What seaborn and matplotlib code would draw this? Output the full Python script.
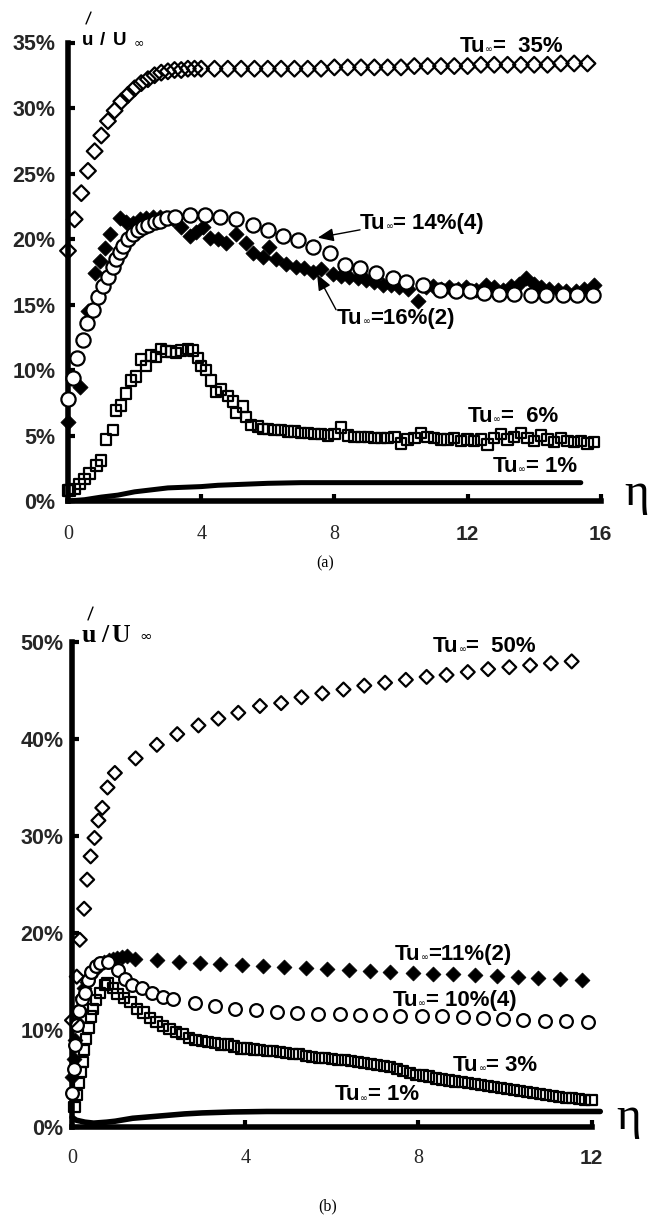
import matplotlib
matplotlib.use("Agg")
import matplotlib.pyplot as plt
import seaborn as sns
from matplotlib.lines import Line2D
from matplotlib.offsetbox import TextArea, HPacker, AnnotationBbox

# ---------------- panel (a) data ----------------
eta_a35 = [0.0, 0.2, 0.4, 0.6, 0.8, 1.0, 1.2, 1.4, 1.6, 1.8, 2.0, 2.2, 2.4, 2.6, 2.8, 3.0, 3.2, 3.4,
           3.6, 3.8, 4.0, 4.4, 4.8, 5.2, 5.6, 6.0, 6.4, 6.8, 7.2, 7.6, 8.0, 8.4, 8.8, 9.2, 9.6, 10.0,
           10.4, 10.8, 11.2, 11.6, 12.0, 12.4, 12.8, 13.2, 13.6, 14.0, 14.4, 14.8, 15.2, 15.6]
tu_a35 = [19.1, 21.5, 23.5, 25.2, 26.7, 27.9, 29.0, 29.8, 30.5, 31.0, 31.5, 31.9, 32.2, 32.5, 32.7,
          32.8, 32.9, 32.9, 33.0, 33.0, 33.0, 33.0, 33.0, 33.0, 33.0, 33.0, 33.0, 33.0, 33.0, 33.0,
          33.1, 33.1, 33.1, 33.1, 33.1, 33.1, 33.2, 33.2, 33.2, 33.2, 33.2, 33.3, 33.3, 33.3, 33.3,
          33.3, 33.3, 33.4, 33.4, 33.4]

eta_a14 = [0.0, 0.14, 0.28, 0.44, 0.58, 0.76, 0.91, 1.06, 1.21, 1.36, 1.45, 1.55, 1.66, 1.81, 1.96,
           2.11, 2.26, 2.41, 2.61, 2.76, 2.96, 3.21, 3.66, 4.11, 4.56, 5.06, 5.56, 6.01, 6.46, 6.91,
           7.36, 7.86, 8.31, 8.76, 9.26, 9.76, 10.16, 10.66, 11.16, 11.66, 12.06, 12.5, 12.95, 13.4,
           13.9, 14.35, 14.85, 15.3, 15.76]
tu_a14 = [7.8, 9.4, 10.9, 12.3, 13.6, 14.6, 15.6, 16.4, 17.1, 17.9, 18.5, 19.0, 19.5, 20.0, 20.4,
          20.7, 20.9, 21.1, 21.3, 21.4, 21.6, 21.7, 21.8, 21.8, 21.7, 21.5, 21.1, 20.7, 20.2, 19.9,
          19.4, 18.9, 18.0, 17.8, 17.4, 17.0, 16.7, 16.5, 16.1, 16.0, 16.0, 15.9, 15.8, 15.8, 15.7,
          15.7, 15.7, 15.7, 15.7]

eta_a16 = [0.0, 0.35, 0.6, 0.8, 0.95, 1.1, 1.25, 1.55, 1.75, 1.95, 2.15, 2.35, 2.55, 2.75, 2.95,
           3.15, 3.4, 3.65, 3.85, 4.05, 4.25, 4.5, 4.75, 5.05, 5.35, 5.55, 5.85, 6.05, 6.25, 6.55,
           6.85, 7.1, 7.35, 7.6, 7.95, 8.2, 8.45, 8.7, 8.95, 9.2, 9.45, 9.7, 9.95, 10.2, 10.5, 10.75,
           10.95, 11.2, 11.45, 11.7, 11.95, 12.25, 12.55, 12.8, 13.05, 13.3, 13.55, 13.75, 14.0,
           14.2, 14.45, 14.7, 14.95, 15.25, 15.5, 15.8]
tu_a16 = [6.0, 8.7, 14.5, 17.4, 18.3, 19.3, 20.4, 21.6, 21.3, 21.2, 21.5, 21.6, 21.7, 21.7, 21.6,
          21.5, 20.9, 20.2, 20.5, 20.9, 20.1, 20.0, 19.7, 20.4, 19.7, 18.9, 18.6, 19.4, 18.5, 18.1,
          17.9, 17.8, 17.5, 17.7, 17.3, 17.2, 17.1, 17.0, 16.9, 16.7, 16.5, 16.5, 16.3, 16.2, 15.3,
          16.3, 16.4, 16.2, 16.3, 16.2, 16.3, 16.1, 16.5, 16.3, 16.1, 16.4, 16.6, 17.0, 16.6, 16.3,
          16.2, 16.1, 16.0, 16.0, 16.2, 16.5]

eta_a6 = [0.0, 0.05, 0.2, 0.35, 0.5, 0.65, 0.85, 1.0, 1.15, 1.35, 1.45, 1.6, 1.75, 1.9, 2.05, 2.2,
          2.35, 2.5, 2.65, 2.8, 2.95, 3.1, 3.25, 3.4, 3.6, 3.75, 3.9, 4.0, 4.15, 4.3, 4.45, 4.6,
          4.8, 4.95, 5.05, 5.25, 5.35, 5.5, 5.7, 5.85,
          6.0, 6.2, 6.4, 6.6, 6.8, 7.0, 7.2, 7.4, 7.6, 7.8, 8.0, 8.2, 8.4, 8.6, 8.8, 9.0, 9.2, 9.4,
          9.6, 9.8, 10.0, 10.2, 10.4, 10.6, 10.8, 11.0, 11.2, 11.4, 11.6, 11.8, 12.0, 12.2, 12.4,
          12.6, 12.8, 13.0, 13.2, 13.4, 13.6, 13.8, 14.0, 14.2, 14.4, 14.6, 14.8, 15.0, 15.2, 15.4,
          15.6, 15.8]
tu_a6 = [0.8, 0.8, 0.9, 1.3, 1.7, 2.1, 2.7, 3.1, 4.7, 5.4, 6.9, 7.3, 8.2, 9.2, 9.5, 10.8, 10.3,
         11.1, 11.0, 11.6, 11.4, 11.4, 11.3, 11.5, 11.6, 11.5, 10.9, 10.3, 10.0, 9.2, 8.3, 8.5, 8.0,
         7.6, 6.7, 7.2, 6.4, 5.8, 5.7, 5.5,
         5.5, 5.4, 5.4, 5.3, 5.3, 5.2, 5.2, 5.1, 5.1, 5.0, 5.1, 5.6, 5.0, 4.9, 4.9, 4.9, 4.8, 4.8,
         4.8, 4.9, 4.4, 4.7, 4.8, 5.2, 4.9, 4.8, 4.7, 4.7, 4.8, 4.6, 4.7, 4.6, 4.7, 4.3, 4.8, 5.1,
         4.7, 4.9, 5.2, 4.8, 4.6, 5.0, 4.7, 4.5, 4.8, 4.6, 4.5, 4.6, 4.4, 4.5]

eta_a1 = [0.0, 0.5, 1.0, 1.5, 2.0, 2.5, 3.0, 3.5, 4.0, 4.5, 5.0, 5.5, 6.0, 7.0, 8.0, 10.0, 12.0,
          14.0, 15.4]
tu_a1 = [0.0, 0.1, 0.3, 0.45, 0.7, 0.85, 1.0, 1.05, 1.1, 1.2, 1.25, 1.3, 1.35, 1.4, 1.4, 1.4, 1.4,
         1.4, 1.4]

# ---------------- panel (b) data ----------------
eta_b50 = [0.0, 0.11, 0.18, 0.28, 0.35, 0.43, 0.52, 0.61, 0.70, 0.82, 0.99, 1.47, 1.96, 2.43, 2.92,
           3.38, 3.84, 4.34, 4.83, 5.3, 5.78, 6.27, 6.75, 7.23, 7.71, 8.19, 8.65, 9.14, 9.61, 10.1,
           10.58, 11.06, 11.54]
tu_b50 = [11.0, 15.5, 19.3, 22.5, 25.5, 27.9, 29.8, 31.6, 32.9, 35.0, 36.5, 38.0, 39.4, 40.5, 41.4,
          42.1, 42.7, 43.4, 43.7, 44.3, 44.7, 45.1, 45.5, 45.8, 46.1, 46.4, 46.6, 46.9, 47.2, 47.4,
          47.6, 47.8, 48.0]

eta_b11 = [0.0, 0.04, 0.08, 0.12, 0.17, 0.22, 0.28, 0.35, 0.42, 0.5, 0.58, 0.66, 0.75, 0.85, 0.95,
           1.05, 1.15, 1.26, 1.45, 1.96, 2.48, 2.96, 3.42, 3.92, 4.42, 4.9, 5.4, 5.9, 6.4, 6.88,
           7.34, 7.87, 8.34, 8.81, 9.31, 9.81, 10.31, 10.77, 11.27, 11.77]
tu_b11 = [5.2, 7.0, 9.0, 10.8, 12.2, 13.4, 14.3, 15.0, 15.6, 16.1, 16.5, 16.8, 17.0, 17.2, 17.3,
          17.4, 17.5, 17.6, 17.3, 17.2, 17.0, 16.9, 16.8, 16.7, 16.6, 16.5, 16.4, 16.3, 16.2, 16.1,
          16.0, 15.9, 15.8, 15.8, 15.7, 15.6, 15.5, 15.4, 15.3, 15.2]

eta_b10 = [0.0, 0.04, 0.08, 0.12, 0.17, 0.22, 0.3, 0.38, 0.45, 0.55, 0.65, 0.84, 1.07, 1.22, 1.38,
           1.61, 1.84, 2.11, 2.34, 2.84, 3.3, 3.76, 4.25, 4.73, 5.19, 5.69, 6.19, 6.65, 7.11, 7.57,
           8.08, 8.54, 9.04, 9.5, 9.96, 10.42, 10.92, 11.42, 11.92]
tu_b10 = [3.5, 6.0, 8.5, 10.5, 12.0, 13.2, 13.8, 15.2, 16.0, 16.6, 16.9, 17.0, 16.2, 15.3, 14.6,
          14.3, 13.8, 13.4, 13.2, 12.8, 12.5, 12.2, 12.1, 11.9, 11.8, 11.7, 11.6, 11.5, 11.5, 11.4,
          11.4, 11.4, 11.3, 11.2, 11.1, 11.0, 10.9, 10.9, 10.8]

eta_b3 = [0.06, 0.11, 0.16, 0.21, 0.26, 0.28, 0.32, 0.38, 0.43, 0.49, 0.55, 0.65, 0.76, 0.82, 0.95,
          1.05, 1.2, 1.35, 1.5, 1.65, 1.8, 1.95, 2.1, 2.25, 2.4, 2.55, 2.7, 2.85, 3.0, 3.15, 3.3,
          3.45, 3.6, 3.75, 3.9, 4.05, 4.2, 4.35, 4.5, 4.65, 4.8, 4.95, 5.1, 5.25, 5.4, 5.55, 5.7,
          5.85, 6.0, 6.15, 6.3, 6.45, 6.6, 6.75, 6.9, 7.05, 7.2, 7.35, 7.5, 7.65, 7.8, 7.95, 8.1,
          8.25, 8.4, 8.55, 8.7, 8.85, 9.0, 9.15, 9.3, 9.45, 9.6, 9.75, 9.9, 10.05, 10.2, 10.35,
          10.5, 10.65, 10.8, 10.95, 11.1, 11.25, 11.4, 11.55, 11.7, 11.85, 12.0]
tu_b3 = [2.1, 3.3, 4.5, 5.7, 6.7, 7.9, 9.1, 10.2, 11.4, 12.2, 13.1, 13.8, 14.6, 14.8, 14.3,
         13.7, 13.3, 12.9, 12.2, 11.8, 11.2, 10.8, 10.4, 10.1, 9.8, 9.6, 9.2, 9.0, 8.9, 8.8, 8.7,
         8.5, 8.5, 8.3, 8.1, 8.1, 8.0, 7.9, 7.8, 7.8, 7.7, 7.6, 7.5, 7.5, 7.3, 7.2, 7.1, 7.1, 7.0,
         6.9, 6.9, 6.8, 6.7, 6.6, 6.5, 6.4, 6.3, 6.2, 6.0, 5.8, 5.6, 5.4, 5.3, 5.2, 5.0, 4.9, 4.8,
         4.7, 4.6, 4.5, 4.4, 4.3, 4.2, 4.1, 4.0, 3.9, 3.8, 3.7, 3.6, 3.5, 3.4, 3.3, 3.2, 3.1, 3.0,
         3.0, 2.9, 2.8, 2.8]

eta_b1 = [0.0, 0.1, 0.3, 0.5, 0.8, 1.0, 1.4, 1.8, 2.2, 2.6, 3.0, 3.7, 4.5, 5.0, 6.0, 8.0, 10.0, 12.2]
tu_b1 = [1.0, 0.7, 0.5, 0.4, 0.5, 0.6, 0.9, 1.05, 1.2, 1.35, 1.45, 1.55, 1.6, 1.6, 1.6, 1.6, 1.6, 1.6]

# axis ticks
xticks_a = [0, 4, 8, 12, 16]
yticks_a = [0, 5, 10, 15, 20, 25, 30, 35]
xticks_b = [0, 4, 8, 12]
yticks_b = [0, 10, 20, 30, 40, 50]

sns.set_theme(style="white")
plt.rcParams["font.family"] = ["Liberation Sans", "DejaVu Sans"]

W, H = 649, 1218
fig = plt.figure(figsize=(W / 100, H / 100), dpi=100)


def rect(x0, ppx, xlim, y0, ppy, ylim):
    left = x0 + xlim[0] * ppx
    right = x0 + xlim[1] * ppx
    bot = y0 - ylim[0] * ppy
    top = y0 - ylim[1] * ppy
    return [left / W, 1 - bot / H, (right - left) / W, (bot - top) / H]


def style_axes(ax, xticks, yticks, xlim, ylim, xpad, ypad):
    ax.set_xlim(*xlim)
    ax.set_ylim(*ylim)
    ax.set_facecolor("none")
    for s in ("top", "right"):
        ax.spines[s].set_visible(False)
    for s in ("left", "bottom"):
        sp = ax.spines[s]
        sp.set_linewidth(4)
        sp.set_color("black")
        sp.set_capstyle("projecting")
        sp.set_position(("data", 0))
        sp.set_zorder(2.5)
    ax.spines["left"].set_bounds(0, yticks[-1])
    ax.spines["bottom"].set_bounds(0, xticks[-1])
    ax.set_yticks(yticks)
    ax.set_yticklabels([f"{v}%" for v in yticks])
    ax.set_xticks(xticks)
    ax.set_xticklabels([str(v) for v in xticks])
    ax.tick_params(axis="y", direction="in", length=5, width=3, color="black",
                   pad=ypad, labelsize=15.5, left=True)
    ax.tick_params(axis="x", direction="in", length=5, width=3, color="black",
                   pad=xpad, bottom=True)
    for lab in ax.get_yticklabels():
        lab.set_fontweight("bold")
        lab.set_family("Liberation Sans")
    for lab, v in zip(ax.get_xticklabels(), xticks):
        if v >= 12:
            lab.set_family("Liberation Sans")
            lab.set_fontweight("bold")
            lab.set_fontsize(15)
        else:
            lab.set_family("Liberation Serif")
            lab.set_fontweight("normal")
            lab.set_fontsize(14.5)
    ax.set_xlabel("")
    ax.set_ylabel("")
    ax.grid(False)


def open_pts(ax, x, y, marker, size, face="none"):
    sns.scatterplot(x=x, y=y, marker=marker, s=size, facecolor=face, edgecolor="black",
                    linewidth=1.6, ax=ax, zorder=3, legend=False)


def solid_pts(ax, x, y, marker, size):
    sns.scatterplot(x=x, y=y, marker=marker, s=size, color="black", edgecolor="black",
                    linewidth=0.5, ax=ax, zorder=3, legend=False)


def tu_label(ax, eta, pct, value, fs=16):
    bold = dict(fontsize=fs, fontweight="bold", family="Liberation Sans", color="black")
    small = dict(fontsize=fs * 0.42, family="DejaVu Sans", color="black")
    box = HPacker(children=[TextArea("Tu", textprops=bold), TextArea("\u221e", textprops=small),
                            TextArea(value, textprops=bold)],
                  align="baseline", pad=0, sep=0)
    ab = AnnotationBbox(box, (eta, pct), xycoords="data", box_alignment=(0, 0.5),
                        frameon=False, pad=0, annotation_clip=False)
    ab.set_zorder(6)
    ax.add_artist(ab)


def arrow(ax, tip, tail):
    ax.annotate("", xy=tip, xytext=tail, xycoords="data", textcoords="data",
                arrowprops=dict(arrowstyle="-|>,head_length=0.6,head_width=0.25", color="black",
                                lw=1.0, mutation_scale=16, shrinkA=0, shrinkB=0),
                annotation_clip=False, zorder=6)


def ftext(px, py, s, **kw):
    fig.text(px / W, 1 - py / H, s, **kw)


def fline(p0, p1, lw=1.0):
    fig.add_artist(Line2D([p0[0] / W, p1[0] / W], [1 - p0[1] / H, 1 - p1[1] / H],
                          transform=fig.transFigure, color="black", lw=lw))


# ---------------- panel (a) ----------------
xlim_a, ylim_a = (-0.5, 16.7), (-0.6, 36.5)
ax1 = fig.add_axes(rect(68, 33.3, xlim_a, 501, 13.1, ylim_a))
sns.lineplot(x=eta_a1, y=tu_a1, color="black", linewidth=3.6, ax=ax1, sort=False,
             estimator=None, zorder=3, solid_capstyle="round")
open_pts(ax1, eta_a6, tu_a6, "s", 56)
solid_pts(ax1, eta_a16, tu_a16, "D", 60)
open_pts(ax1, eta_a14, tu_a14, "o", 105, face="white")
open_pts(ax1, eta_a35, tu_a35, "D", 64)
style_axes(ax1, xticks_a, yticks_a, xlim_a, ylim_a, xpad=17, ypad=9)

tu_label(ax1, 11.77, 34.7, "=  35%")
tu_label(ax1, 8.77, 21.2, "= 14%(4)")
tu_label(ax1, 8.08, 13.9, "=16%(2)")
tu_label(ax1, 12.01, 6.45, "=  6%")
tu_label(ax1, 12.76, 2.6, "= 1%")
arrow(ax1, (7.5, 20.1), (8.77, 20.7))
arrow(ax1, (7.48, 17.3), (8.05, 14.6))

# ---------------- panel (b) ----------------
xlim_b, ylim_b = (-0.4, 12.6), (-1.0, 52.0)
ax2 = fig.add_axes(rect(72, 43.3, xlim_b, 1127, 9.7, ylim_b))
sns.lineplot(x=eta_b1, y=tu_b1, color="black", linewidth=4, ax=ax2, sort=False,
             estimator=None, zorder=3, solid_capstyle="round")
open_pts(ax2, eta_b3, tu_b3, "s", 54)
solid_pts(ax2, eta_b11, tu_b11, "D", 58)
open_pts(ax2, eta_b10, tu_b10, "o", 84, face="white")
open_pts(ax2, eta_b50, tu_b50, "D", 50)
style_axes(ax2, xticks_b, yticks_b, xlim_b, ylim_b, xpad=16, ypad=6)

tu_label(ax2, 8.34, 49.5, "=  50%")
tu_label(ax2, 7.46, 17.8, "=11%(2)")
tu_label(ax2, 7.41, 13.0, "= 10%(4)")
tu_label(ax2, 8.80, 6.3, "= 3%")
tu_label(ax2, 6.07, 3.3, "= 1%")

# ---------------- axis titles and captions ----------------
sans_b = dict(family="Liberation Sans", fontweight="bold", color="black", va="baseline", ha="left")
serif_b = dict(family="Liberation Serif", fontweight="bold", color="black", va="baseline", ha="left")

ftext(82, 45, "u", fontsize=13.5, **sans_b)
ftext(100, 45, "/", fontsize=13.5, **sans_b)
ftext(113, 45, "U", fontsize=13.5, **sans_b)
ftext(134, 46, "\u221e", fontsize=9, family="DejaVu Sans", color="black", va="baseline", ha="left")
fline((86, 24), (91, 12), lw=1.0)

ftext(82, 642, "u", fontsize=18.5, **serif_b)
ftext(101, 642, "/", fontsize=18.5, **serif_b)
ftext(111, 642, "U", fontsize=18.5, **serif_b)
ftext(139, 641, "\u221e", fontsize=11, family="DejaVu Sans", color="black", va="baseline",
      ha="left")
fline((88, 620), (93, 607), lw=1.0)

ftext(624, 505, "\u03b7", fontsize=34, family="Liberation Serif", color="black",
      va="baseline", ha="left")
ftext(616, 1129, "\u03b7", fontsize=34, family="Liberation Serif", color="black",
      va="baseline", ha="left")

ftext(325, 567, "(a)", fontsize=11.5, family="Liberation Serif", color="black",
      va="baseline", ha="center")
ftext(328, 1210, "(b)", fontsize=11.5, family="Liberation Serif", color="black",
      va="baseline", ha="center")

fig.savefig("out.png", dpi=100)
